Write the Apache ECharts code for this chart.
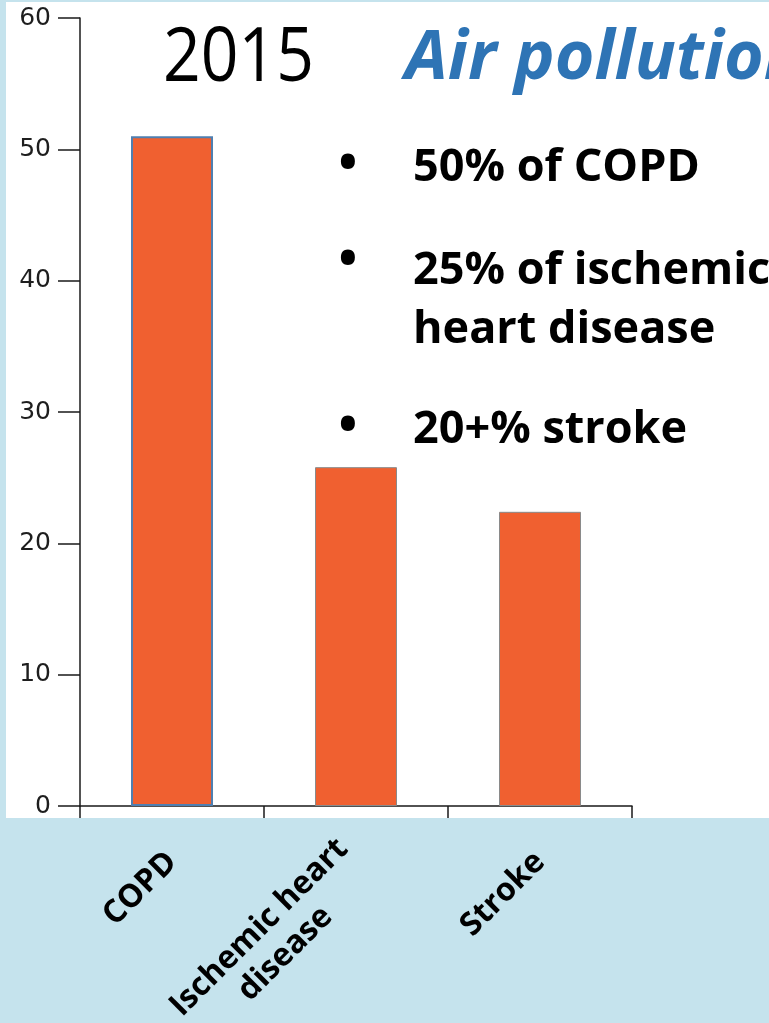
<!DOCTYPE html>
<html>
<head>
<meta charset="utf-8">
<script src="https://cdn.jsdelivr.net/npm/echarts@6/dist/echarts.min.js"></script>
<style>
  html, body { margin: 0; padding: 0; background: #c5e3ed; }
  #chart { width: 769px; height: 1023px; }
</style>
</head>
<body>
<div id="chart"></div>
<script>
// Share of deaths attributable to air pollution, 2015 (%)
const categories = ['COPD', 'Ischemic heart\ndisease', 'Stroke'];
const values = [51.0, 25.8, 22.4];
const yTicks = [0, 10, 20, 30, 40, 50, 60];
const bulletLines = ['50% of COPD', '25% of ischemic', 'heart disease', '20+% stroke'];

const chart = echarts.init(document.getElementById('chart'), null, { renderer: 'canvas' });

const barBorders = ['#4f7fb0', '#8a8a8a', '#8a8a8a'];
const barBorderWidths = [2, 1, 1];

const bulletFont = 'bold 45px "Open Sans"';
const dotFont = 'bold 50px "Open Sans"';

const option = {
  backgroundColor: '#c5e3ed',
  animation: false,
  grid: { left: 80, right: 137, top: 18, bottom: 217, containLabel: false, outerBoundsMode: 'none' },
  xAxis: {
    type: 'category',
    data: categories,
    boundaryGap: true,
    axisLine: { show: true, lineStyle: { color: '#1a1a1a', width: 1.5 } },
    axisTick: { show: true, alignWithLabel: false, length: 12, lineStyle: { color: '#1a1a1a', width: 1.5 } },
    axisLabel: {
      interval: 0,
      rotate: 45,
      margin: 51,
      formatter: function (v) {
        return v.split('\n').map(function (s) { return '{c|' + s + '}'; }).join('\n');
      },
      rich: {
        c: {
          align: 'center',
          fontFamily: 'Open Sans',
          fontWeight: 'bold',
          fontSize: 32,
          lineHeight: 37,
          color: '#000'
        }
      }
    }
  },
  yAxis: {
    type: 'value',
    min: 0,
    max: 60,
    interval: 10,
    splitLine: { show: false },
    axisLine: { show: true, lineStyle: { color: '#1a1a1a', width: 1.5 } },
    axisTick: { show: true, inside: false, length: 22, lineStyle: { color: '#1a1a1a', width: 1.5 } },
    axisLabel: {
      margin: 29,
      fontFamily: 'DejaVu Sans',
      fontSize: 25,
      color: '#1e1e1e',
      formatter: function (v) { return yTicks.indexOf(v) >= 0 ? String(v) : ''; }
    }
  },
  series: [{
    type: 'bar',
    barWidth: 82,
    data: values.map(function (v, i) {
      return {
        value: v,
        itemStyle: { color: '#f06030', borderColor: barBorders[i], borderWidth: barBorderWidths[i] }
      };
    })
  }],
  graphic: {
    elements: [
      {
        type: 'rect', z: -10, silent: true,
        shape: { x: 6, y: 2, width: 763, height: 816 },
        style: { fill: '#ffffff' }
      },
      {
        type: 'text', z: 100, x: 163, y: 97, scaleY: 1.13,
        style: { text: '2015', x: 0, y: 0, font: '66px "Open Sans"', fill: '#000', textVerticalAlign: 'bottom' }
      },
      {
        type: 'text', z: 100, x: 405, y: 60,
        style: { text: 'Air pollution', font: 'italic bold 68px "Open Sans"', fill: '#2e74b5', textVerticalAlign: 'middle' }
      },
      { type: 'text', z: 100, x: 348, y: 166, style: { text: '•', font: dotFont, fill: '#000', textAlign: 'center', textVerticalAlign: 'middle' } },
      { type: 'text', z: 100, x: 348, y: 262, style: { text: '•', font: dotFont, fill: '#000', textAlign: 'center', textVerticalAlign: 'middle' } },
      { type: 'text', z: 100, x: 348, y: 428, style: { text: '•', font: dotFont, fill: '#000', textAlign: 'center', textVerticalAlign: 'middle' } },
      { type: 'text', z: 100, x: 413, y: 168, style: { text: bulletLines[0], font: bulletFont, fill: '#000', textVerticalAlign: 'middle' } },
      { type: 'text', z: 100, x: 413, y: 271, style: { text: bulletLines[1], font: bulletFont, fill: '#000', textVerticalAlign: 'middle' } },
      { type: 'text', z: 100, x: 413, y: 330, style: { text: bulletLines[2], font: bulletFont, fill: '#000', textVerticalAlign: 'middle' } },
      { type: 'text', z: 100, x: 413, y: 430, style: { text: bulletLines[3], font: bulletFont, fill: '#000', textVerticalAlign: 'middle' } }
    ]
  }
};

chart.setOption(option);
</script>
</body>
</html>
